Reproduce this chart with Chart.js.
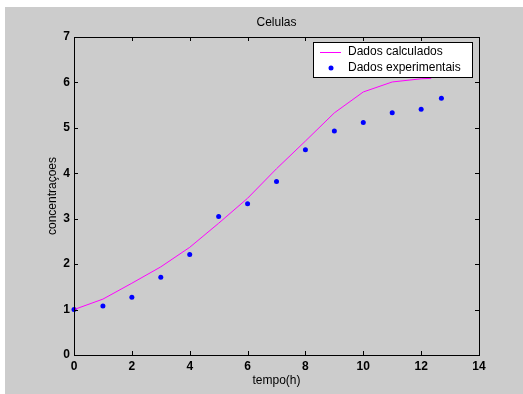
<!DOCTYPE html>
<html>
<head>
<meta charset="utf-8">
<script src="https://cdn.jsdelivr.net/npm/chart.js@4"></script>
<style>
    html, body { margin: 0; padding: 0; background: #ffffff; }
    #grafico { display: block; margin: 7px 0 0 5px; background: #cccccc; }
</style>
</head>
<body>
<canvas id="grafico" width="518" height="387"></canvas>
<script>
// dados experimentais
const tempoExp = [0, 1, 2, 3, 4, 5, 6, 7, 8, 9, 10, 11, 12, 12.7];
const concExp = [1.00, 1.08, 1.27, 1.71, 2.21, 3.05, 3.33, 3.82, 4.52, 4.93, 5.12, 5.33, 5.41, 5.65];

// dados calculados (modelo)
const tempoCalc = [0, 1, 2, 3, 4, 5, 6, 7, 8, 9, 10, 11, 12, 12.35];
const concCalc = [1.00, 1.23, 1.58, 1.94, 2.37, 2.90, 3.45, 4.10, 4.71, 5.33, 5.79, 6.01, 6.08, 6.09];

const ticksX = [0, 2, 4, 6, 8, 10, 12, 14];
const ticksY = [0, 1, 2, 3, 4, 5, 6, 7];

const toPoints = (xs, ys) => xs.map((x, i) => ({ x: x, y: ys[i] }));

Chart.defaults.font.family = "Arial, 'Liberation Sans', sans-serif";
Chart.defaults.font.size = 12;
Chart.defaults.color = "#000";

// caixa dos eixos, ticks para dentro e legenda estilo matlab
const eixosMatlab = {
    id: "eixosMatlab",
    afterDraw(chart) {
        const ctx = chart.ctx;
        const { left, right, top, bottom } = chart.chartArea;
        const sx = chart.scales.x, sy = chart.scales.y;
        ctx.save();
        ctx.strokeStyle = "#000";
        ctx.lineWidth = 1;
        ctx.beginPath();
        ticksX.slice(1, -1).forEach(v => {
            const px = Math.round(sx.getPixelForValue(v)) + 0.5;
            ctx.moveTo(px, bottom); ctx.lineTo(px, bottom - 4);
            ctx.moveTo(px, top); ctx.lineTo(px, top + 4);
        });
        ticksY.slice(1, -1).forEach(v => {
            const py = Math.round(sy.getPixelForValue(v)) + 0.5;
            ctx.moveTo(left, py); ctx.lineTo(left + 4, py);
            ctx.moveTo(right, py); ctx.lineTo(right - 4, py);
        });
        ctx.stroke();
        ctx.strokeRect(Math.round(left) + 0.5, Math.round(top) + 0.5,
            Math.round(right - left), Math.round(bottom - top));

        // legenda
        const ds = chart.data.datasets;
        const w = 159, h = 35;
        const lx = Math.round(right) - 7 - w, ly = Math.round(top) + 5;
        ctx.fillStyle = "#fff";
        ctx.fillRect(lx, ly, w, h);
        ctx.strokeRect(lx + 0.5, ly + 0.5, w, h);
        ctx.font = "12px Arial, 'Liberation Sans', sans-serif";
        ctx.textBaseline = "middle";
        ctx.strokeStyle = ds[0].borderColor;
        ctx.beginPath();
        ctx.moveTo(lx + 7, ly + 10.5); ctx.lineTo(lx + 28, ly + 10.5);
        ctx.stroke();
        ctx.fillStyle = ds[1].backgroundColor;
        ctx.beginPath();
        ctx.arc(lx + 18, ly + 26, 2.5, 0, Math.PI * 2);
        ctx.fill();
        ctx.fillStyle = "#000";
        ctx.fillText(ds[0].label, lx + 35, ly + 10);
        ctx.fillText(ds[1].label, lx + 35, ly + 26);
        ctx.restore();
    }
};

new Chart(document.getElementById("grafico"), {
    type: "scatter",
    data: {
        datasets: [
            {
                label: "Dados calculados",
                data: toPoints(tempoCalc, concCalc),
                showLine: true,
                borderColor: "#ff00ff",
                backgroundColor: "#ff00ff",
                borderWidth: 1,
                pointRadius: 0,
                tension: 0,
                clip: false
            },
            {
                label: "Dados experimentais",
                data: toPoints(tempoExp, concExp),
                showLine: false,
                borderColor: "#0000ff",
                backgroundColor: "#0000ff",
                pointRadius: 2.5,
                pointBorderWidth: 0,
                clip: false
            }
        ]
    },
    options: {
        responsive: false,
        animation: false,
        devicePixelRatio: 1,
        layout: { padding: { left: 0, right: 44, top: 0, bottom: 0 } },
        scales: {
            x: {
                type: "linear",
                min: 0,
                max: 14,
                afterBuildTicks: s => { s.ticks = ticksX.map(v => ({ value: v })); },
                afterFit: s => { s.height = 39; },
                grid: { display: false, drawTicks: false },
                border: { display: false },
                ticks: { padding: 4, font: { weight: "bold" } },
                title: { display: true, text: "tempo(h)", padding: { top: 0, bottom: 5.8 } }
            },
            y: {
                type: "linear",
                min: 0,
                max: 7,
                afterBuildTicks: s => { s.ticks = ticksY.map(v => ({ value: v })); },
                afterFit: s => { s.width = 69; },
                grid: { display: false, drawTicks: false },
                border: { display: false },
                ticks: { padding: 4, font: { weight: "bold" } },
                title: { display: true, text: "concentraçoes", padding: { top: 40.8, bottom: 0 } }
            }
        },
        plugins: {
            legend: { display: false },
            tooltip: { enabled: false },
            title: {
                display: true,
                text: "Celulas",
                fullSize: false,
                color: "#000",
                font: { size: 12, weight: "normal" },
                padding: { top: 8.8, bottom: 6.8 }
            }
        }
    },
    plugins: [eixosMatlab]
});
</script>
</body>
</html>
